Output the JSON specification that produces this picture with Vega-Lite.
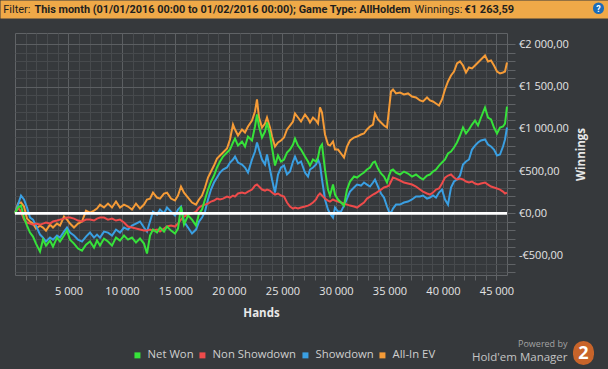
{
"$schema": "https://vega.github.io/schema/vega-lite/v6.json",
"width": 492, "height": 242,
"autosize": {"type": "none"},
"padding": {"left": 15, "top": 33, "right": 101, "bottom": 94},
"background": "#36393c",
"config": {
  "view": {"stroke": "#606366", "strokeWidth": 1, "fill": "#36393c"},
  "axis": {"labelFont": "Open Sans", "titleFont": "Open Sans", "domain": false, "labelFlush": false},
  "legend": {"orient": "none", "legendX": 116.8, "legendY": 316.3, "direction": "horizontal", "columns": 4, "symbolType": "square", "symbolSize": 9, "symbolStrokeWidth": 3, "labelFont": "Open Sans", "labelFontSize": 11.3, "labelColor": "#cfcfcf", "labelOffset": 4.5, "columnPadding": 1, "padding": 0}
},
"data": {"values": [
{"h":0,"nw":0,"ns":0,"sd":0,"ev":0},
{"h":280,"nw":69,"ns":69,"sd":104,"ev":116},
{"h":561,"nw":92,"ns":21,"sd":211,"ev":128},
{"h":841,"nw":-50,"ns":-74,"sd":164,"ev":81},
{"h":1122,"nw":-145,"ns":-109,"sd":69,"ev":-62},
{"h":1402,"nw":-228,"ns":-121,"sd":-50,"ev":-97},
{"h":1682,"nw":-275,"ns":-133,"sd":-74,"ev":-121},
{"h":1963,"nw":-358,"ns":-121,"sd":-145,"ev":-180},
{"h":2337,"nw":-453,"ns":-133,"sd":-251,"ev":-145},
{"h":2617,"nw":-311,"ns":-121,"sd":-287,"ev":-168},
{"h":2897,"nw":-382,"ns":-109,"sd":-334,"ev":-204},
{"h":3271,"nw":-322,"ns":-121,"sd":-287,"ev":-133},
{"h":3551,"nw":-393,"ns":-97,"sd":-311,"ev":-168},
{"h":3925,"nw":-287,"ns":-85,"sd":-263,"ev":-121},
{"h":4206,"nw":-334,"ns":-74,"sd":-287,"ev":-145},
{"h":4580,"nw":-263,"ns":-62,"sd":-216,"ev":-38},
{"h":4860,"nw":-204,"ns":-50,"sd":-168,"ev":-74},
{"h":5140,"nw":-311,"ns":-50,"sd":-228,"ev":-121},
{"h":5514,"nw":-358,"ns":-62,"sd":-263,"ev":-168},
{"h":5888,"nw":-417,"ns":-85,"sd":-311,"ev":-121},
{"h":6262,"nw":-441,"ns":-97,"sd":-334,"ev":-97},
{"h":6636,"nw":-370,"ns":-74,"sd":-275,"ev":33},
{"h":7010,"nw":-334,"ns":-74,"sd":-228,"ev":9},
{"h":7383,"nw":-405,"ns":-85,"sd":-287,"ev":33},
{"h":7664,"nw":-322,"ns":-62,"sd":-251,"ev":57},
{"h":7944,"nw":-382,"ns":-50,"sd":-287,"ev":104},
{"h":8318,"nw":-299,"ns":-50,"sd":-216,"ev":69},
{"h":8692,"nw":-334,"ns":-74,"sd":-228,"ev":116},
{"h":9066,"nw":-382,"ns":-62,"sd":-263,"ev":69},
{"h":9439,"nw":-287,"ns":-85,"sd":-192,"ev":140},
{"h":9813,"nw":-322,"ns":-74,"sd":-228,"ev":69},
{"h":10187,"nw":-263,"ns":-109,"sd":-168,"ev":104},
{"h":10561,"nw":-311,"ns":-156,"sd":-192,"ev":81},
{"h":10935,"nw":-287,"ns":-168,"sd":-145,"ev":45},
{"h":11309,"nw":-346,"ns":-180,"sd":-121,"ev":116},
{"h":11683,"nw":-299,"ns":-192,"sd":-97,"ev":57},
{"h":12056,"nw":-358,"ns":-204,"sd":-168,"ev":104},
{"h":12337,"nw":-476,"ns":-204,"sd":-216,"ev":164},
{"h":12617,"nw":-263,"ns":-192,"sd":-97,"ev":175},
{"h":12897,"nw":-192,"ns":-204,"sd":21,"ev":246},
{"h":13271,"nw":-228,"ns":-192,"sd":-14,"ev":187},
{"h":13552,"nw":-168,"ns":-216,"sd":45,"ev":175},
{"h":13926,"nw":-216,"ns":-180,"sd":-2,"ev":235},
{"h":14206,"nw":-156,"ns":-156,"sd":69,"ev":246},
{"h":14580,"nw":-204,"ns":-145,"sd":21,"ev":175},
{"h":14954,"nw":-239,"ns":-156,"sd":-26,"ev":152},
{"h":15234,"nw":-180,"ns":-121,"sd":45,"ev":211},
{"h":15514,"nw":81,"ns":-74,"sd":81,"ev":318},
{"h":15795,"nw":-133,"ns":-38,"sd":-97,"ev":246},
{"h":16169,"nw":-26,"ns":-14,"sd":-168,"ev":187},
{"h":16542,"nw":-74,"ns":-2,"sd":-239,"ev":128},
{"h":16916,"nw":-145,"ns":21,"sd":-192,"ev":104},
{"h":17197,"nw":-2,"ns":69,"sd":-97,"ev":164},
{"h":17477,"nw":45,"ns":92,"sd":-50,"ev":211},
{"h":17757,"nw":164,"ns":104,"sd":21,"ev":306},
{"h":18038,"nw":282,"ns":116,"sd":164,"ev":424},
{"h":18318,"nw":377,"ns":140,"sd":282,"ev":495},
{"h":18599,"nw":448,"ns":152,"sd":365,"ev":566},
{"h":18879,"nw":543,"ns":175,"sd":424,"ev":649},
{"h":19159,"nw":614,"ns":164,"sd":483,"ev":685},
{"h":19440,"nw":673,"ns":175,"sd":519,"ev":720},
{"h":19814,"nw":720,"ns":199,"sd":543,"ev":768},
{"h":20094,"nw":756,"ns":187,"sd":602,"ev":875},
{"h":20374,"nw":839,"ns":211,"sd":638,"ev":1052},
{"h":20562,"nw":886,"ns":199,"sd":673,"ev":993},
{"h":20842,"nw":803,"ns":235,"sd":602,"ev":922},
{"h":21215,"nw":851,"ns":246,"sd":578,"ev":993},
{"h":21496,"nw":792,"ns":235,"sd":543,"ev":957},
{"h":21776,"nw":910,"ns":258,"sd":483,"ev":1029},
{"h":22150,"nw":863,"ns":282,"sd":638,"ev":1100},
{"h":22430,"nw":1029,"ns":329,"sd":732,"ev":1206},
{"h":22617,"nw":1171,"ns":341,"sd":839,"ev":1349},
{"h":22804,"nw":1029,"ns":318,"sd":756,"ev":1135},
{"h":23085,"nw":898,"ns":282,"sd":638,"ev":1017},
{"h":23365,"nw":969,"ns":270,"sd":578,"ev":1064},
{"h":23552,"nw":1076,"ns":282,"sd":697,"ev":1135},
{"h":23832,"nw":934,"ns":270,"sd":519,"ev":1017},
{"h":24020,"nw":780,"ns":246,"sd":401,"ev":910},
{"h":24300,"nw":566,"ns":223,"sd":246,"ev":792},
{"h":24580,"nw":685,"ns":235,"sd":460,"ev":839},
{"h":24860,"nw":614,"ns":211,"sd":543,"ev":863},
{"h":25141,"nw":638,"ns":199,"sd":566,"ev":898},
{"h":25421,"nw":720,"ns":128,"sd":460,"ev":993},
{"h":25702,"nw":756,"ns":81,"sd":495,"ev":1040},
{"h":25982,"nw":815,"ns":57,"sd":614,"ev":1088},
{"h":26169,"nw":886,"ns":69,"sd":673,"ev":1183},
{"h":26449,"nw":803,"ns":57,"sd":590,"ev":1135},
{"h":26730,"nw":756,"ns":69,"sd":614,"ev":1088},
{"h":27103,"nw":673,"ns":81,"sd":483,"ev":1171},
{"h":27384,"nw":614,"ns":92,"sd":436,"ev":1123},
{"h":27571,"nw":566,"ns":104,"sd":519,"ev":1076},
{"h":27851,"nw":638,"ns":128,"sd":543,"ev":1135},
{"h":28131,"nw":614,"ns":164,"sd":578,"ev":1100},
{"h":28318,"nw":661,"ns":211,"sd":638,"ev":1064},
{"h":28505,"nw":780,"ns":235,"sd":578,"ev":1254},
{"h":28692,"nw":815,"ns":211,"sd":401,"ev":1194},
{"h":28973,"nw":519,"ns":175,"sd":164,"ev":934},
{"h":29253,"nw":282,"ns":152,"sd":45,"ev":815},
{"h":29440,"nw":211,"ns":140,"sd":-2,"ev":803},
{"h":29720,"nw":341,"ns":164,"sd":-50,"ev":851},
{"h":29907,"nw":223,"ns":152,"sd":69,"ev":756},
{"h":30188,"nw":164,"ns":140,"sd":21,"ev":756},
{"h":30468,"nw":128,"ns":128,"sd":21,"ev":709},
{"h":30748,"nw":92,"ns":116,"sd":92,"ev":661},
{"h":31029,"nw":282,"ns":104,"sd":175,"ev":792},
{"h":31309,"nw":377,"ns":92,"sd":258,"ev":863},
{"h":31683,"nw":436,"ns":81,"sd":306,"ev":898},
{"h":31963,"nw":424,"ns":69,"sd":341,"ev":910},
{"h":32337,"nw":460,"ns":104,"sd":329,"ev":934},
{"h":32618,"nw":483,"ns":128,"sd":365,"ev":946},
{"h":32898,"nw":519,"ns":175,"sd":341,"ev":993},
{"h":33178,"nw":543,"ns":199,"sd":318,"ev":1029},
{"h":33459,"nw":602,"ns":223,"sd":365,"ev":1052},
{"h":33646,"nw":614,"ns":235,"sd":401,"ev":1183},
{"h":33926,"nw":531,"ns":258,"sd":318,"ev":1112},
{"h":34206,"nw":472,"ns":282,"sd":235,"ev":1076},
{"h":34487,"nw":436,"ns":306,"sd":187,"ev":1040},
{"h":34767,"nw":365,"ns":318,"sd":81,"ev":1017},
{"h":34954,"nw":448,"ns":329,"sd":21,"ev":1230},
{"h":35141,"nw":507,"ns":377,"sd":9,"ev":1443},
{"h":35328,"nw":519,"ns":424,"sd":57,"ev":1467},
{"h":35608,"nw":483,"ns":412,"sd":104,"ev":1420},
{"h":35982,"nw":460,"ns":389,"sd":104,"ev":1431},
{"h":36356,"nw":495,"ns":365,"sd":128,"ev":1408},
{"h":36730,"nw":472,"ns":353,"sd":140,"ev":1420},
{"h":37104,"nw":436,"ns":341,"sd":164,"ev":1384},
{"h":37477,"nw":460,"ns":318,"sd":199,"ev":1372},
{"h":37851,"nw":424,"ns":282,"sd":199,"ev":1337},
{"h":38132,"nw":401,"ns":258,"sd":211,"ev":1325},
{"h":38506,"nw":448,"ns":235,"sd":175,"ev":1372},
{"h":38786,"nw":460,"ns":223,"sd":187,"ev":1337},
{"h":39066,"nw":495,"ns":246,"sd":211,"ev":1325},
{"h":39347,"nw":519,"ns":282,"sd":187,"ev":1301},
{"h":39627,"nw":566,"ns":294,"sd":246,"ev":1277},
{"h":39907,"nw":602,"ns":353,"sd":282,"ev":1349},
{"h":40188,"nw":638,"ns":424,"sd":164,"ev":1467},
{"h":40468,"nw":709,"ns":448,"sd":104,"ev":1562},
{"h":40749,"nw":732,"ns":460,"sd":306,"ev":1633},
{"h":41029,"nw":780,"ns":424,"sd":377,"ev":1680},
{"h":41309,"nw":839,"ns":401,"sd":401,"ev":1775},
{"h":41590,"nw":922,"ns":412,"sd":448,"ev":1799},
{"h":41870,"nw":1017,"ns":401,"sd":578,"ev":1751},
{"h":42150,"nw":946,"ns":377,"sd":614,"ev":1668},
{"h":42431,"nw":993,"ns":365,"sd":638,"ev":1728},
{"h":42711,"nw":1052,"ns":377,"sd":756,"ev":1716},
{"h":42992,"nw":1100,"ns":353,"sd":803,"ev":1751},
{"h":43272,"nw":1040,"ns":341,"sd":839,"ev":1787},
{"h":43552,"nw":1135,"ns":353,"sd":863,"ev":1823},
{"h":43926,"nw":1254,"ns":365,"sd":875,"ev":1870},
{"h":44207,"nw":1135,"ns":341,"sd":815,"ev":1799},
{"h":44487,"nw":1112,"ns":318,"sd":792,"ev":1811},
{"h":44767,"nw":1017,"ns":306,"sd":756,"ev":1751},
{"h":45048,"nw":946,"ns":294,"sd":685,"ev":1680},
{"h":45328,"nw":1017,"ns":282,"sd":697,"ev":1657},
{"h":45608,"nw":1029,"ns":258,"sd":792,"ev":1668},
{"h":45795,"nw":1064,"ns":235,"sd":875,"ev":1680},
{"h":45982,"nw":1264,"ns":246,"sd":1017,"ev":1787}
]},
"resolve": {"axis": {"x": "independent"}},
"layer": [
 {
  "mark": {"type": "line", "strokeWidth": 2},
  "encoding": {
   "x": {"field": "h", "type": "quantitative", "scale": {"domain": [0, 45982], "nice": false, "zero": false},
    "axis": {"orient": "bottom", "title": "Hands", "tickCount": 100,
     "values": [1000,2000,3000,4000,5000,6000,7000,8000,9000,10000,11000,12000,13000,14000,15000,16000,17000,18000,19000,20000,21000,22000,23000,24000,25000,26000,27000,28000,29000,30000,31000,32000,33000,34000,35000,36000,37000,38000,39000,40000,41000,42000,43000,44000,45000],
     "grid": true, "gridWidth": 1,
     "gridColor": {"condition": {"test": "datum.value % 5000 === 0", "value": "#5c5f62"}, "value": "#474a4d"},
     "ticks": true, "tickSize": 5, "tickColor": "#606366",
     "labelExpr": "datum.value % 5000 === 0 ? replace(format(datum.value, ','), ',', ' ') : ''",
     "labelColor": "#e4e4e4", "labelFontSize": 11, "labelPadding": 5, "labelOverlap": false, "labelFlush": false,
     "titleColor": "#e8e8e8", "titleFontSize": 11.5, "titleFontWeight": "bold", "titleY": 38.5, "titleBaseline": "middle"}},
   "y": {"field": "ev", "type": "quantitative", "title": "Winnings", "scale": {"domain": [-730, 2136], "nice": false, "zero": false},
    "axis": {"orient": "right", "title": "Winnings", "tickCount": 100,
     "values": [-700,-600,-500,-400,-300,-200,-100,0,100,200,300,400,500,600,700,800,900,1000,1100,1200,1300,1400,1500,1600,1700,1800,1900,2000],
     "grid": true, "gridWidth": 1,
     "gridColor": {"condition": {"test": "datum.value % 500 === 0", "value": "#5c5f62"}, "value": "#474a4d"},
     "ticks": true, "tickSize": 8, "tickColor": "#606366",
     "labelExpr": "datum.value % 500 === 0 ? (datum.value < 0 ? '-' : '') + '€' + replace(replace(format(abs(datum.value), ',.2f'), ',', ' '), '.', ',') : ''",
     "labelColor": "#e4e4e4", "labelFontSize": 11, "labelPadding": 3.5, "labelOverlap": false,
     "titleColor": "#e8e8e8", "titleFontSize": 11.5, "titleFontWeight": "bold", "titleAngle": 270, "titleX": 74.5, "titleY": 121, "titleBaseline": "middle", "titleAlign": "center"}},
   "color": {"datum": "All-In EV", "type": "nominal", "title": null,
    "scale": {"domain": ["Net Won", "Non Showdown", "Showdown", "All-In EV"], "range": ["#36e23a", "#ee4b4b", "#3a9fe2", "#f59b37"]}}
  }
 },
 {
  "mark": {"type": "line", "strokeWidth": 2},
  "encoding": {
   "x": {"field": "h", "type": "quantitative", "scale": {"domain": [0, 45982], "nice": false, "zero": false},
    "axis": {"orient": "top", "offset": 15, "title": null, "values": [27010], "grid": false, "domain": false, "labels": false,
     "ticks": true, "tickSize": 18, "tickWidth": 608, "tickCap": "butt", "tickColor": "#efa948"}},
   "y": {"field": "sd", "type": "quantitative", "title": "Winnings", "scale": {"domain": [-730, 2136], "nice": false, "zero": false}},
   "color": {"datum": "Showdown", "type": "nominal", "title": null,
    "scale": {"domain": ["Net Won", "Non Showdown", "Showdown", "All-In EV"], "range": ["#36e23a", "#ee4b4b", "#3a9fe2", "#f59b37"]}}
  }
 },
 {
  "mark": {"type": "line", "strokeWidth": 2},
  "encoding": {
   "x": {"field": "h", "type": "quantitative", "scale": {"domain": [0, 45982], "nice": false, "zero": false},
    "axis": {"orient": "top", "offset": 23.7, "title": null, "values": [1402, 1776, 37291, 41964], "grid": false, "domain": false, "ticks": false,
     "labelExpr": "datum.value == 1402 ? 'Filter:' : datum.value == 1776 ? 'This month (01/01/2016 00:00 to 01/02/2016 00:00); Game Type: AllHoldem' : datum.value == 37291 ? 'Winnings:' : '€1 263,59'",
     "labelFont": "Roboto",
     "labelFontSize": {"condition": {"test": "datum.value == 1776", "value": 10.9}, "value": 11},
     "labelFontWeight": {"condition": {"test": "datum.value == 1776 || datum.value == 41964", "value": "bold"}, "value": "normal"},
     "labelColor": "#1e1e1e",
     "labelAlign": {"condition": {"test": "datum.value == 1402", "value": "right"}, "value": "left"},
     "labelBaseline": "middle", "labelPadding": 0, "labelOverlap": false, "labelBound": false, "labelLimit": 1000, "labelFlush": false}},
   "y": {"field": "ns", "type": "quantitative", "title": "Winnings", "scale": {"domain": [-730, 2136], "nice": false, "zero": false}},
   "color": {"datum": "Non Showdown", "type": "nominal", "title": null,
    "scale": {"domain": ["Net Won", "Non Showdown", "Showdown", "All-In EV"], "range": ["#36e23a", "#ee4b4b", "#3a9fe2", "#f59b37"]}}
  }
 },
 {
  "mark": {"type": "line", "strokeWidth": 2},
  "encoding": {
   "x": {"field": "h", "type": "quantitative", "scale": {"domain": [0, 45982], "nice": false, "zero": false},
    "axis": {"orient": "bottom", "offset": 76, "title": null, "values": [45982], "tickOffset": 76, "grid": false, "domain": false,
     "ticks": true, "tickSize": 3, "tickWidth": 21, "tickCap": "round", "tickColor": "#c8642a",
     "labelExpr": "'2'", "labelFont": "Open Sans", "labelFontSize": 18, "labelFontWeight": "bold", "labelColor": "#ffffff",
     "labelAlign": "center", "labelBaseline": "middle", "labelPadding": -0.5, "labelOverlap": false, "labelFlush": false}},
   "y": {"field": "nw", "type": "quantitative", "title": "Winnings", "scale": {"domain": [-730, 2136], "nice": false, "zero": false}},
   "color": {"datum": "Net Won", "type": "nominal", "title": null,
    "scale": {"domain": ["Net Won", "Non Showdown", "Showdown", "All-In EV"], "range": ["#36e23a", "#ee4b4b", "#3a9fe2", "#f59b37"]}}
  }
 },
 {
  "data": {"values": [{}]},
  "mark": {"type": "rule", "color": "#ffffff", "strokeWidth": 2.5},
  "encoding": {
   "x": {"datum": 0, "type": "quantitative", "scale": {"domain": [0, 45982], "nice": false, "zero": false},
    "axis": {"orient": "bottom", "offset": 75, "title": null, "values": [45981, 45982], "tickOffset": 60, "grid": false, "domain": false, "ticks": false,
     "labelExpr": "datum.value == 45981 ? 'Powered by' : \"Hold'em Manager\"",
     "labelFont": "Open Sans",
     "labelFontSize": {"condition": {"test": "datum.value == 45981", "value": 9}, "value": 11.5},
     "labelColor": {"condition": {"test": "datum.value == 45981", "value": "#a3a3a3"}, "value": "#c4c4c4"},
     "labelBaseline": {"condition": {"test": "datum.value == 45981", "value": "line-bottom"}, "value": "line-top"},
     "labelLineHeight": 14,
     "labelAlign": "right", "labelPadding": 0, "labelOverlap": false, "labelFlush": false, "labelLimit": 1000}},
   "x2": {"datum": 45982},
   "y": {"datum": 0, "type": "quantitative", "title": "Winnings", "scale": {"domain": [-730, 2136], "nice": false, "zero": false}}
  }
 },
 {
  "data": {"values": [{}]},
  "mark": {"type": "rule", "color": "#ffffff", "strokeWidth": 2.5},
  "encoding": {
   "x": {"datum": 0, "type": "quantitative", "scale": {"domain": [0, 45982], "nice": false, "zero": false},
    "axis": {"orient": "top", "offset": 25, "title": null, "values": [45982], "tickOffset": 91, "grid": false, "domain": false,
     "ticks": true, "tickSize": 0.5, "tickWidth": 11, "tickCap": "round", "tickColor": "#1b6cb8",
     "labelExpr": "'?'", "labelFont": "Roboto", "labelFontSize": 9, "labelFontWeight": "bold", "labelColor": "#ffffff",
     "labelAlign": "center", "labelBaseline": "middle", "labelPadding": -0.5, "labelOverlap": false, "labelFlush": false}},
   "x2": {"datum": 45982},
   "y": {"datum": 0, "type": "quantitative", "title": "Winnings", "scale": {"domain": [-730, 2136], "nice": false, "zero": false}}
  }
 }
]
}
